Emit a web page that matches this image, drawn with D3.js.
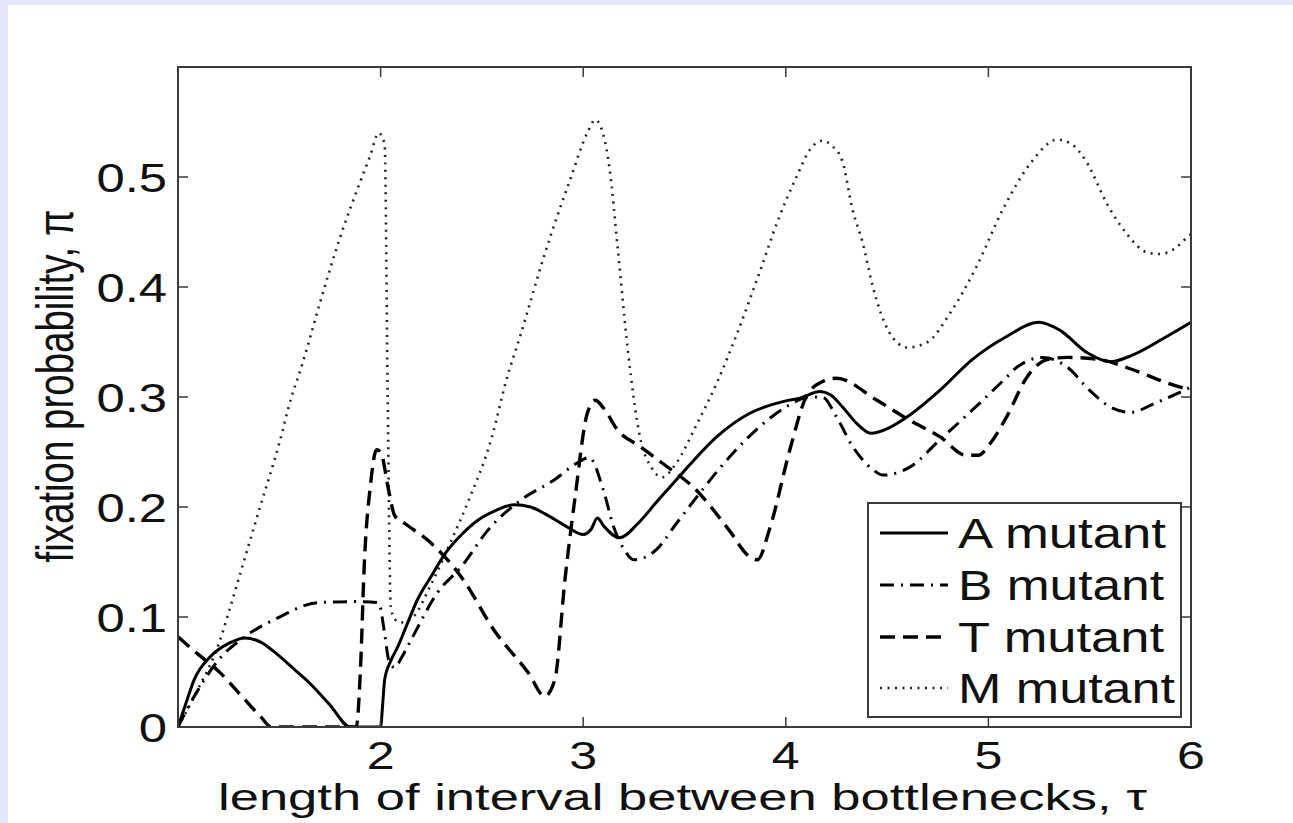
<!DOCTYPE html>
<html>
<head>
<meta charset="utf-8">
<script src="https://cdn.jsdelivr.net/npm/d3@7"></script>
<style>
  html, body { margin: 0; padding: 0; background: #e6e6fa; overflow: hidden; }
  svg { display: block; }
  text { font-family: "Liberation Sans", Arial, Helvetica, sans-serif; fill: #111; }
</style>
</head>
<body>
<div id="chart"></div>
<script>
// ===== data =====
const xTicks = [2, 3, 4, 5, 6];
const yTicks = [0, 0.1, 0.2, 0.3, 0.4, 0.5];
const yTickLabels = ["0", "0.1", "0.2", "0.3", "0.4", "0.5"];
const seriesNames = ["A mutant", "B mutant", "T mutant", "M mutant"];

const aX = [1.0, 1.04, 1.08, 1.16, 1.25, 1.33, 1.41, 1.49, 1.57, 1.66, 1.75, 1.85, 1.9, 1.95, 2.0, 2.01, 2.02, 2.05, 2.085, 2.13, 2.18, 2.25, 2.32, 2.4, 2.48, 2.57, 2.66, 2.74, 2.81, 2.92, 3.0, 3.04, 3.07, 3.1, 3.18, 3.27, 3.36, 3.49, 3.66, 3.82, 3.99, 4.07, 4.17, 4.22, 4.28, 4.35, 4.42, 4.51, 4.6, 4.76, 4.92, 5.09, 5.25, 5.35, 5.49, 5.6, 5.71, 5.88, 6.0];
const aY = [0, 0.022, 0.043, 0.064, 0.076, 0.081, 0.077, 0.066, 0.053, 0.038, 0.02, 0, 0, 0, 0, 0.02, 0.043, 0.06, 0.073, 0.093, 0.115, 0.137, 0.158, 0.175, 0.188, 0.197, 0.202, 0.2, 0.194, 0.182, 0.175, 0.18, 0.19, 0.183, 0.172, 0.185, 0.204, 0.231, 0.264, 0.285, 0.296, 0.299, 0.305, 0.302, 0.291, 0.276, 0.267, 0.272, 0.282, 0.306, 0.334, 0.355, 0.368, 0.361, 0.34, 0.332, 0.338, 0.355, 0.368];

const bX = [1.0, 1.05, 1.1, 1.2, 1.33, 1.49, 1.69, 1.87, 1.99, 2.02, 2.04, 2.07, 2.1, 2.15, 2.28, 2.4, 2.53, 2.69, 2.86, 2.97, 3.03, 3.1, 3.15, 3.2, 3.25, 3.36, 3.46, 3.56, 3.72, 3.89, 4.02, 4.12, 4.18, 4.25, 4.33, 4.43, 4.48, 4.61, 4.76, 4.92, 5.09, 5.14, 5.27, 5.39, 5.5, 5.6, 5.7, 5.83, 6.0];
const bY = [0, 0.018, 0.034, 0.061, 0.082, 0.099, 0.113, 0.114, 0.113, 0.085, 0.061, 0.054, 0.062, 0.079, 0.122, 0.146, 0.179, 0.206, 0.225, 0.24, 0.245, 0.215, 0.182, 0.162, 0.152, 0.161, 0.185, 0.209, 0.245, 0.276, 0.293, 0.3, 0.3, 0.282, 0.255, 0.234, 0.229, 0.236, 0.261, 0.288, 0.318, 0.327, 0.336, 0.327, 0.306, 0.291, 0.286, 0.295, 0.309];

const tX = [1.0, 1.1, 1.21, 1.31, 1.41, 1.46, 1.6, 1.75, 1.88, 1.9, 1.92, 1.95, 1.98, 2.0, 2.04, 2.07, 2.12, 2.25, 2.4, 2.56, 2.73, 2.81, 2.86, 2.91, 2.96, 3.02, 3.06, 3.1, 3.17, 3.28, 3.39, 3.56, 3.72, 3.82, 3.86, 3.92, 4.02, 4.1, 4.17, 4.25, 4.45, 4.61, 4.76, 4.89, 4.95, 5.01, 5.09, 5.19, 5.29, 5.39, 5.55, 5.71, 5.88, 6.0];
const tY = [0.082, 0.066, 0.049, 0.029, 0.009, 0, 0, 0, 0, 0.05, 0.15, 0.22, 0.252, 0.25, 0.215, 0.192, 0.185, 0.167, 0.136, 0.088, 0.049, 0.028, 0.043, 0.134, 0.209, 0.285, 0.297, 0.29, 0.27, 0.255, 0.24, 0.215, 0.179, 0.155, 0.152, 0.18, 0.252, 0.3, 0.313, 0.317, 0.297, 0.279, 0.264, 0.247, 0.247, 0.258, 0.282, 0.318, 0.334, 0.336, 0.334, 0.325, 0.313, 0.306];

const mX = [1.0, 1.1, 1.2, 1.25, 1.3, 1.4, 1.5, 1.56, 1.6, 1.7, 1.74, 1.8, 1.9, 1.95, 1.99, 2.02, 2.035, 2.05, 2.07, 2.1, 2.16, 2.25, 2.35, 2.43, 2.55, 2.62, 2.69, 2.81, 2.94, 3.02, 3.06, 3.1, 3.13, 3.17, 3.22, 3.28, 3.34, 3.39, 3.46, 3.56, 3.66, 3.76, 3.87, 3.96, 4.05, 4.12, 4.18, 4.23, 4.28, 4.33, 4.38, 4.43, 4.51, 4.6, 4.7, 4.81, 4.94, 5.07, 5.21, 5.34, 5.41, 5.48, 5.59, 5.68, 5.79, 5.85, 5.92, 5.98, 6.0];
const mY = [0, 0.035, 0.075, 0.104, 0.135, 0.197, 0.258, 0.3, 0.322, 0.385, 0.41, 0.445, 0.496, 0.52, 0.54, 0.53, 0.3, 0.11, 0.098, 0.095, 0.1, 0.13, 0.17, 0.204, 0.264, 0.315, 0.356, 0.43, 0.5, 0.54, 0.552, 0.538, 0.508, 0.436, 0.343, 0.264, 0.235, 0.227, 0.24, 0.275, 0.313, 0.358, 0.413, 0.46, 0.499, 0.525, 0.533, 0.528, 0.514, 0.47, 0.44, 0.4, 0.359, 0.345, 0.35, 0.376, 0.418, 0.47, 0.513, 0.534, 0.53, 0.515, 0.474, 0.449, 0.431, 0.43, 0.435, 0.445, 0.448];

// ===== layout =====
const W = 1293, H = 823;
const plot = { left: 178, right: 1191, top: 67, bottom: 727 };
const sx = 1.27; // the original figure is stretched sideways

const x = d3.scaleLinear().domain([1, 6]).range([plot.left, plot.right]);
const y = d3.scaleLinear().domain([0, 0.6]).range([plot.bottom, plot.top]);

// line styles per series
const styles = [
  { width: 3, dash: null, color: "#000" },
  { width: 3, dash: "14,7,2,7", color: "#000" },
  { width: 3.4, dash: "15,8", color: "#000" },
  { width: 2.6, dash: "2,5.5", color: "#222" }
];
const series = [
  d3.zip(aX, aY),
  d3.zip(bX, bY),
  d3.zip(tX, tY),
  d3.zip(mX, mY)
];

const svg = d3.select("#chart").append("svg").attr("width", W).attr("height", H);

// white page area, lavender strip shows at left/top
svg.append("rect").attr("x", 8).attr("y", 5).attr("width", W - 8).attr("height", H - 5).attr("fill", "#fff");

svg.append("clipPath").attr("id", "clip")
  .append("rect")
  .attr("x", plot.left).attr("y", plot.top)
  .attr("width", plot.right - plot.left).attr("height", plot.bottom - plot.top);

// ===== curves =====
const line = d3.line()
  .x(d => x(d[0]))
  .y(d => y(d[1]))
  .curve(d3.curveMonotoneX);

const g = svg.append("g").attr("clip-path", "url(#clip)");
// draw M first so the solid lines sit on top
[3, 2, 1, 0].forEach(i => {
  g.append("path")
    .datum(series[i])
    .attr("d", line)
    .attr("fill", "none")
    .attr("stroke", styles[i].color)
    .attr("stroke-width", styles[i].width)
    .attr("stroke-dasharray", styles[i].dash)
    .attr("stroke-linejoin", "round");
});

// ===== axes box with inward ticks on all sides =====
const axisColor = "#3a3a3a";
const tickLen = 10;
svg.append("rect")
  .attr("x", plot.left).attr("y", plot.top)
  .attr("width", plot.right - plot.left).attr("height", plot.bottom - plot.top)
  .attr("fill", "none").attr("stroke", axisColor).attr("stroke-width", 2);

const ticks = svg.append("g").attr("stroke", axisColor).attr("stroke-width", 1.5);
xTicks.forEach(t => {
  ticks.append("line").attr("x1", x(t)).attr("x2", x(t)).attr("y1", plot.bottom).attr("y2", plot.bottom - tickLen);
  ticks.append("line").attr("x1", x(t)).attr("x2", x(t)).attr("y1", plot.top).attr("y2", plot.top + tickLen);
});
yTicks.forEach(t => {
  ticks.append("line").attr("x1", plot.left).attr("x2", plot.left + tickLen).attr("y1", y(t)).attr("y2", y(t));
  ticks.append("line").attr("x1", plot.right).attr("x2", plot.right - tickLen).attr("y1", y(t)).attr("y2", y(t));
});

// tick labels
xTicks.forEach(t => {
  svg.append("text")
    .attr("transform", `translate(${x(t)},769) scale(${sx + 0.05},1)`)
    .attr("text-anchor", "middle")
    .attr("font-size", 38)
    .text(t);
});
yTicks.forEach((t, i) => {
  svg.append("text")
    .attr("transform", `translate(167,${y(t) + 15}) scale(${sx},1)`)
    .attr("text-anchor", "end")
    .attr("font-size", 40)
    .text(yTickLabels[i]);
});

// axis titles
svg.append("text")
  .attr("x", 218).attr("y", 810)
  .attr("font-size", 36)
  .attr("textLength", 929)
  .attr("lengthAdjust", "spacingAndGlyphs")
  .text("length of interval between bottlenecks, τ");

svg.append("text")
  .attr("transform", `translate(73,386) rotate(-90) scale(1,1.32)`)
  .attr("text-anchor", "middle")
  .attr("font-size", 39)
  .attr("textLength", 353)
  .attr("lengthAdjust", "spacingAndGlyphs")
  .text("fixation probability, π");

// ===== legend =====
const legend = svg.append("g");
legend.append("rect")
  .attr("x", 868).attr("y", 503).attr("width", 313).attr("height", 214)
  .attr("fill", "#fff").attr("stroke", axisColor).attr("stroke-width", 2);

const legendBase = [548, 600, 652, 703];
const legendLen = [208, 206, 206, 217];
seriesNames.forEach((name, i) => {
  const yy = legendBase[i];
  legend.append("line")
    .attr("x1", 880).attr("x2", 948)
    .attr("y1", yy - 15).attr("y2", yy - 15)
    .attr("stroke", styles[i].color)
    .attr("stroke-width", styles[i].width)
    .attr("stroke-dasharray", styles[i].dash);
  legend.append("text")
    .attr("x", 958).attr("y", yy)
    .attr("font-size", 42)
    .attr("textLength", legendLen[i])
    .attr("lengthAdjust", "spacingAndGlyphs")
    .text(name);
});
</script>
</body>
</html>
